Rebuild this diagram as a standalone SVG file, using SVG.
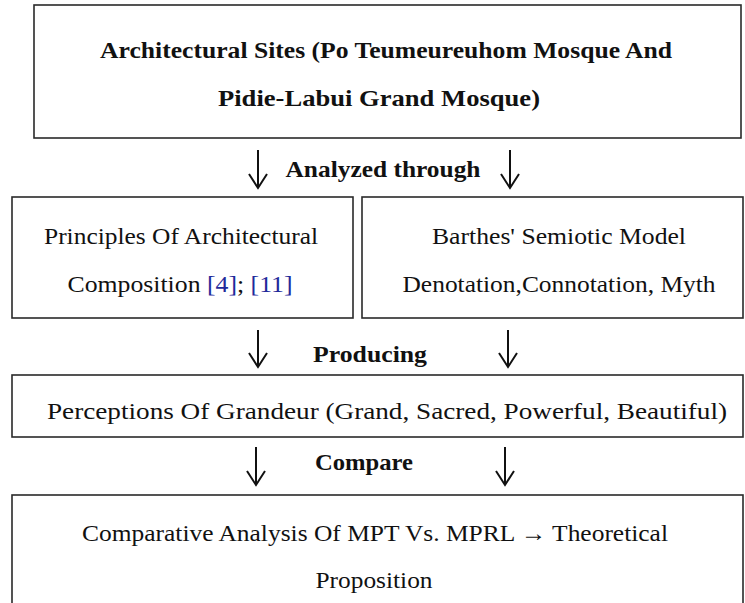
<svg xmlns="http://www.w3.org/2000/svg" width="745" height="603" viewBox="0 0 745 603">
  <style>
    .box { fill: #ffffff; stroke: #2a2a2a; stroke-width: 1.6; }
    .t { font-family: "Liberation Serif", "Times New Roman", serif; font-size: 24px; fill: #111; text-anchor: middle; }
    .b { font-weight: bold; font-size: 23px; }
    .ref { fill: #1f2a9a; }
    .arrow { stroke: #111; stroke-width: 2; fill: none; }
  </style>
  <rect width="745" height="603" fill="#ffffff"/>

  <g id="sites">
    <rect class="box" x="34" y="5" width="707" height="133"/>
    <text class="t b" x="386" y="58" textLength="572" lengthAdjust="spacingAndGlyphs">Architectural Sites (Po Teumeureuhom Mosque And</text>
    <text class="t b" x="379" y="106" textLength="322" lengthAdjust="spacingAndGlyphs">Pidie-Labui Grand Mosque)</text>
  </g>

  <g id="principles">
    <rect class="box" x="12" y="197" width="341" height="121"/>
    <text class="t" x="181" y="244" textLength="274" lengthAdjust="spacingAndGlyphs">Principles Of Architectural</text>
    <text class="t" x="180" y="292" textLength="225" lengthAdjust="spacingAndGlyphs">Composition  <tspan class="ref">[4]</tspan>; <tspan class="ref">[11]</tspan></text>
  </g>

  <g id="semiotic">
    <rect class="box" x="362" y="197" width="381" height="121"/>
    <text class="t" x="559" y="244" textLength="254" lengthAdjust="spacingAndGlyphs">Barthes' Semiotic Model</text>
    <text class="t" x="559" y="292" textLength="313" lengthAdjust="spacingAndGlyphs">Denotation,Connotation,  Myth</text>
  </g>

  <g id="perceptions">
    <rect class="box" x="12" y="375" width="731" height="62"/>
    <text class="t" x="387" y="419" textLength="680" lengthAdjust="spacingAndGlyphs">Perceptions Of Grandeur (Grand, Sacred, Powerful, Beautiful)</text>
  </g>

  <g id="comparison">
    <rect class="box" x="12" y="495" width="731" height="120"/>
    <text class="t" x="375" y="541" textLength="586" lengthAdjust="spacingAndGlyphs">Comparative Analysis Of MPT Vs. MPRL → Theoretical</text>
    <text class="t" x="374" y="588" textLength="117" lengthAdjust="spacingAndGlyphs">Proposition</text>
  </g>

  <g id="connectors">
    <path class="arrow" d="M258 150 V187 M249 174 L258 188 L267 174"/>
    <path class="arrow" d="M510 150 V187 M501 174 L510 188 L519 174"/>
    <text class="t b" x="383" y="177" textLength="195" lengthAdjust="spacingAndGlyphs">Analyzed through</text>

    <path class="arrow" d="M258 330 V366 M249 353 L258 367 L267 353"/>
    <path class="arrow" d="M508 330 V366 M499 353 L508 367 L517 353"/>
    <text class="t b" x="370" y="362" textLength="114" lengthAdjust="spacingAndGlyphs">Producing</text>

    <path class="arrow" d="M256 447 V484 M247 471 L256 485 L265 471"/>
    <path class="arrow" d="M505 447 V484 M496 471 L505 485 L514 471"/>
    <text class="t b" x="364" y="470" textLength="98" lengthAdjust="spacingAndGlyphs">Compare</text>
  </g>
</svg>
